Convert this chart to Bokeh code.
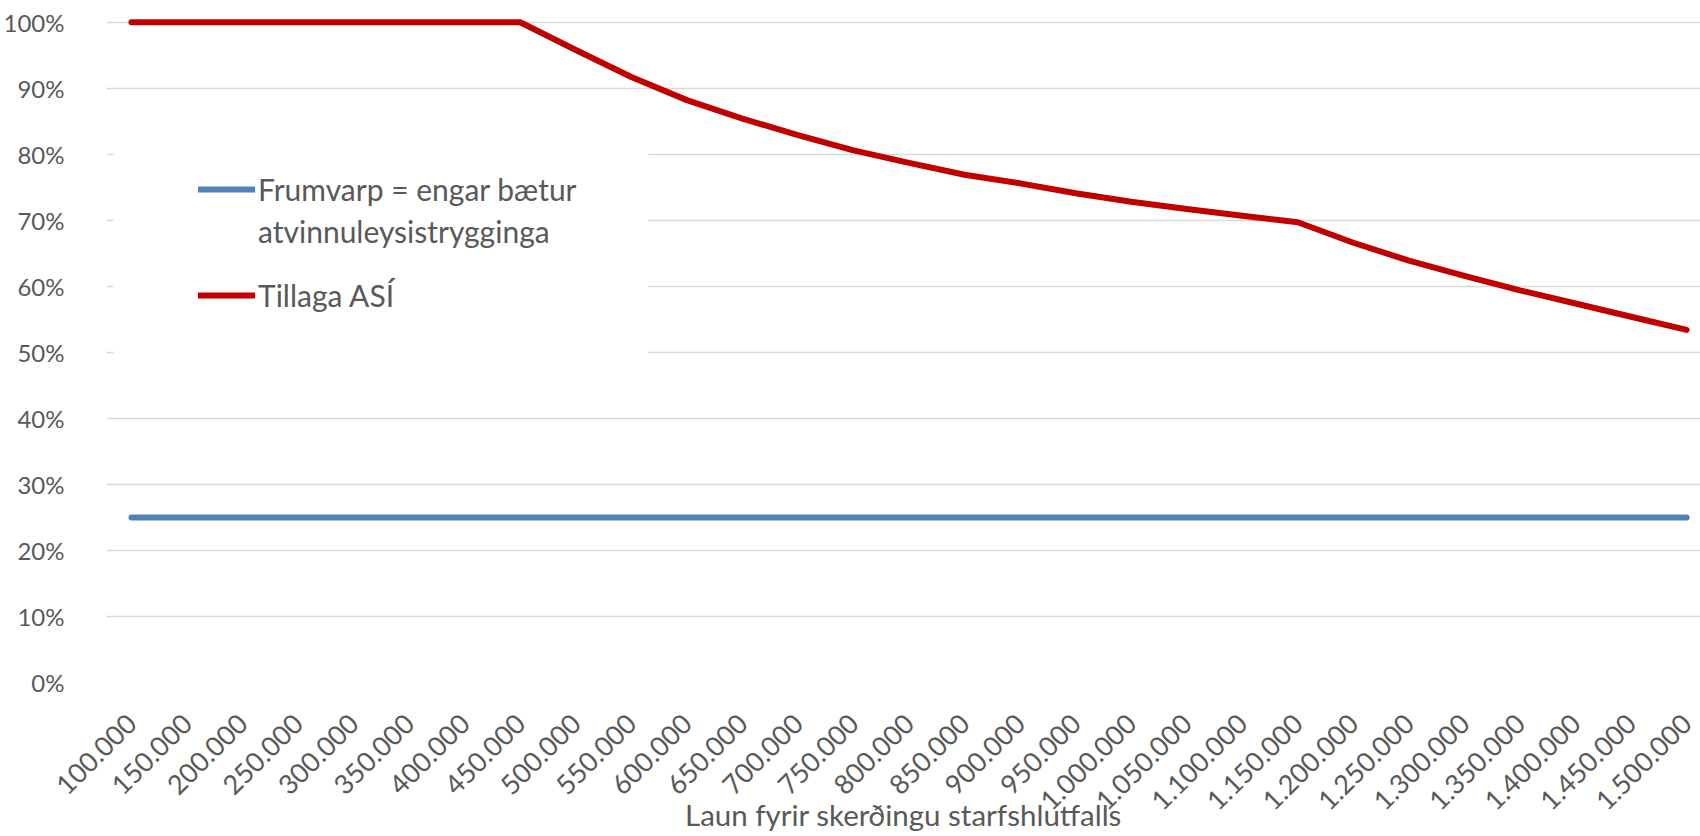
from bokeh.plotting import figure
from bokeh.models import (Range1d, FixedTicker, Legend, LegendItem, PrintfTickFormatter,
                          BoxAnnotation)
from bokeh.embed import file_html
from bokeh.resources import INLINE

# Categories (wages before reduction of job ratio)
categories = ["100.000", "150.000", "200.000", "250.000", "300.000", "350.000",
              "400.000", "450.000", "500.000", "550.000", "600.000", "650.000",
              "700.000", "750.000", "800.000", "850.000", "900.000", "950.000",
              "1.000.000", "1.050.000", "1.100.000", "1.150.000", "1.200.000",
              "1.250.000", "1.300.000", "1.350.000", "1.400.000", "1.450.000",
              "1.500.000"]

# Series values (percent)
frumvarp = [25] * 29
tillaga_asi = [100, 100, 100, 100, 100, 100, 100, 100, 95.8, 91.7, 88.2, 85.4,
               82.9, 80.6, 78.7, 76.9, 75.6, 74.1, 72.8, 71.7, 70.7, 69.7,
               66.6, 63.9, 61.6, 59.4, 57.4, 55.4, 53.4]

y_ticks = [0, 10, 20, 30, 40, 50, 60, 70, 80, 90, 100]

label_blue_1 = "Frumvarp = engar bætur"
label_blue_2 = "atvinnuleysistrygginga"
label_red = "Tillaga ASÍ"
x_title = "Laun fyrir skerðingu starfshlutfalls"

FONT = "Lato"
GREY = "#595959"

x = list(range(len(categories)))

p = figure(width=1700, height=836, output_backend="svg", toolbar_location=None,
           x_range=Range1d(-0.449, 28.25), y_range=Range1d(0, 103.29),
           min_border_left=103, min_border_right=0, min_border_top=0,
           min_border_bottom=154)

p.outline_line_color = None
p.background_fill_color = "white"
p.border_fill_color = "white"

blue = p.line(x, frumvarp, line_color="#4F81BD", line_width=6, line_cap="round")
red = p.line(x, tillaga_asi, line_color="#C00000", line_width=6, line_join="round",
             line_cap="round")
# invisible renderer, only used for the second line of the first legend entry
wrap = p.line([], [], line_alpha=0)

# Axes
p.xaxis.ticker = FixedTicker(ticks=x)
p.xaxis.major_label_overrides = {i: c for i, c in enumerate(categories)}
p.xaxis.major_label_orientation = 0.785398
p.xaxis.major_label_text_font = FONT
p.xaxis.major_label_text_font_size = "27px"
p.xaxis.major_label_text_color = GREY
p.xaxis.major_label_standoff = 30
p.xaxis.axis_line_color = None
p.xaxis.major_tick_line_color = None
p.xaxis.minor_tick_line_color = None
p.xaxis.axis_label = x_title
p.xaxis.axis_label_text_font = FONT
p.xaxis.axis_label_text_font_size = "29.5px"
p.xaxis.axis_label_text_font_style = "normal"
p.xaxis.axis_label_text_color = GREY
p.xaxis.axis_label_standoff = -25

p.yaxis.ticker = FixedTicker(ticks=y_ticks)
p.yaxis.formatter = PrintfTickFormatter(format="%d%%")
p.yaxis.major_label_text_font = FONT
p.yaxis.major_label_text_font_size = "24px"
p.yaxis.major_label_text_color = GREY
p.yaxis.major_label_standoff = 36
p.yaxis.axis_line_color = None
p.yaxis.major_tick_line_color = None
p.yaxis.minor_tick_line_color = None

p.xgrid.grid_line_color = None
p.ygrid.ticker = FixedTicker(ticks=y_ticks)
p.ygrid.grid_line_color = "#D9D9D9"
p.ygrid.grid_line_width = 1.5

# white legend area hiding the gridlines behind it
legend_box = BoxAnnotation(left=7, right=542, bottom=307, top=557,
                           left_units="screen", right_units="screen",
                           bottom_units="screen", top_units="screen",
                           fill_color="white", fill_alpha=1.0, line_color=None)
p.add_layout(legend_box)


def style_legend(lg):
    lg.label_text_font = FONT
    lg.label_text_font_size = "30px"
    lg.label_text_color = GREY
    lg.glyph_width = 57
    lg.glyph_height = 30
    lg.label_standoff = 3
    lg.padding = 0
    lg.margin = 0
    lg.border_line_color = None
    lg.background_fill_alpha = 0.0


legend_a = Legend(items=[LegendItem(label=label_blue_1, renderers=[blue]),
                         LegendItem(label=label_blue_2, renderers=[wrap])],
                  location=(92, 433))
style_legend(legend_a)
legend_a.spacing = 6
legend_b = Legend(items=[LegendItem(label=label_red, renderers=[red])],
                  location=(92, 369))
style_legend(legend_b)
p.add_layout(legend_a, "center")
p.add_layout(legend_b, "center")

open("out.html", "w").write(file_html(p, INLINE))
